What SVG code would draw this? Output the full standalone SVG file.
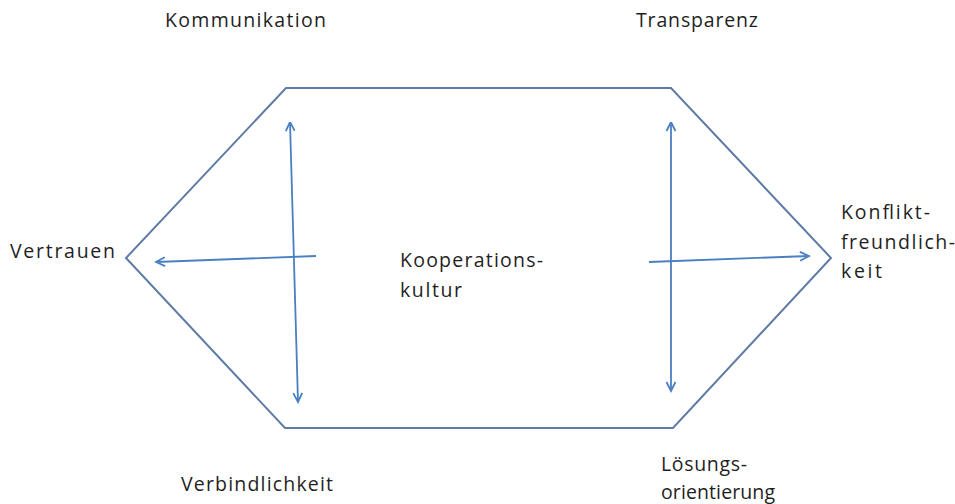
<svg xmlns="http://www.w3.org/2000/svg" width="955" height="504" viewBox="0 0 955 504">
<style>
text{font-family:"Open Sans","Noto Sans","DejaVu Sans",sans-serif;font-size:19.5px;fill:#1f1f1f}
.hex{fill:none;stroke:#5f7ba5;stroke-width:2}
.arr{fill:none;stroke:#4a7fc1;stroke-width:1.8;marker-end:url(#ah);marker-start:url(#ahs)}
.one{fill:none;stroke:#4a7fc1;stroke-width:1.8;marker-end:url(#ah)}
</style>
<defs>
<marker id="ah" markerWidth="12" markerHeight="12" refX="10" refY="5" orient="auto" markerUnits="userSpaceOnUse">
<path d="M1,0.5 L10,5 L1,9.5" fill="none" stroke="#4a7fc1" stroke-width="1.8"/>
</marker>
<marker id="ahs" markerWidth="12" markerHeight="12" refX="0" refY="5" orient="auto" markerUnits="userSpaceOnUse">
<path d="M9,0.5 L0,5 L9,9.5" fill="none" stroke="#4a7fc1" stroke-width="1.8"/>
</marker>
</defs>
<g id="hexagon">
<polygon class="hex" points="286,88 671,88 831,258 673,428 285,428 126,258"/>
</g>
<g id="connectors">
<line class="arr" x1="290" y1="122" x2="298" y2="402"/>
<line class="one" x1="316" y1="256" x2="156" y2="262"/>
<line class="arr" x1="671" y1="122" x2="671" y2="391"/>
<line class="one" x1="649" y1="262" x2="809" y2="256"/>
</g>
<g id="center"><text x="400" y="267" textLength="143">Kooperations-</text><text x="400" y="297" textLength="62">kultur</text></g>
<g id="kommunikation"><text x="165" y="27" textLength="161">Kommunikation</text></g>
<g id="transparenz"><text x="636" y="27" textLength="122">Transparenz</text></g>
<g id="vertrauen"><text x="10" y="258" textLength="105">Vertrauen</text></g>
<g id="konflikt"><text x="841" y="219" textLength="89">Konflikt-</text><text x="841" y="249" textLength="114">freundlich-</text><text x="841" y="278" textLength="41">keit</text></g>
<g id="verbindlichkeit"><text x="181" y="491" textLength="152">Verbindlichkeit</text></g>
<g id="loesung"><text x="661" y="471" textLength="86">Lösungs-</text><text x="661" y="499" textLength="114">orientierung</text></g>
</svg>
